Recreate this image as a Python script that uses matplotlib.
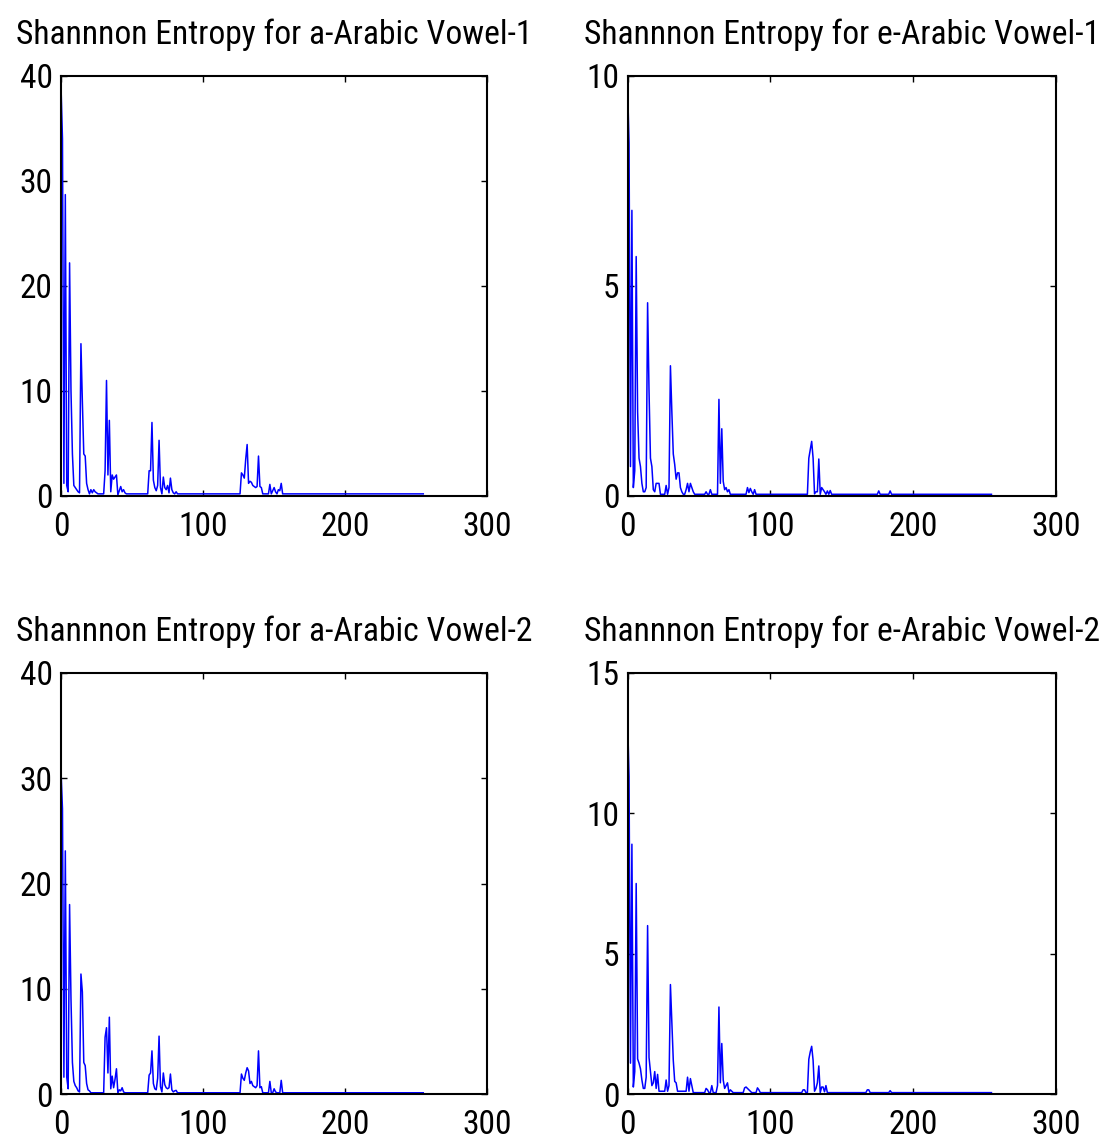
import numpy as np
import matplotlib
matplotlib.use("Agg")
import matplotlib.pyplot as plt
from matplotlib import font_manager

N_POINTS = 256

# a-Arabic Vowel-1 (top left): index -> entropy, rest sits on the baseline
a1_idx = [0, 1, 2, 3, 4, 5, 6, 7, 8, 9, 10, 11, 12, 13, 14, 15, 16, 17, 18, 19, 20, 21, 22, 23, 24, 25,
          31, 32, 33, 34, 35, 36, 37, 38, 39, 40, 41, 42, 43, 44, 45,
          62, 63, 64, 65, 66, 67, 68, 69, 70, 71, 72, 73, 74, 75, 76, 77, 78, 79, 81,
          127, 128, 129, 130, 131, 132, 133, 134, 135, 136, 137, 138, 139, 140, 141,
          147, 149, 150, 151, 153, 154, 155]
a1_val = [38.9, 34.0, 1.2, 28.7, 1.0, 0.4, 22.2, 10.0, 4.0, 1.0, 0.8, 0.6, 0.4, 0.3, 14.5, 9.0, 4.0, 3.8, 1.2, 0.6, 0.2, 0.6, 0.3, 0.6, 0.4, 0.3,
          2.4, 11.0, 2.0, 7.2, 0.4, 2.0, 1.6, 1.8, 2.0, 0.1, 0.5, 0.9, 0.4, 0.6, 0.3,
          2.4, 2.4, 7.0, 1.5, 0.8, 0.5, 1.0, 5.3, 0.8, 0.2, 1.8, 0.8, 0.6, 1.0, 0.3, 1.7, 0.6, 0.3, 0.4,
          2.2, 2.0, 1.7, 3.5, 4.9, 1.2, 1.4, 1.3, 1.0, 0.9, 0.8, 0.9, 3.8, 0.9, 0.8,
          1.1, 0.5, 0.8, 0.4, 0.6, 0.5, 1.2]
a1_base = 0.2

# e-Arabic Vowel-1 (top right)
e1_idx = [0, 1, 2, 3, 4, 5, 6, 7, 8, 9, 10, 11, 12, 13, 14, 15, 16, 17, 18, 19, 20, 21, 22,
          27, 29, 30, 31, 32, 33, 34, 35, 36, 37, 38, 41, 42, 43, 44, 45, 46,
          55, 58, 64, 65, 66, 67, 68, 69, 70, 71,
          84, 85, 86, 87, 89,
          127, 128, 129, 130, 131, 132, 133, 134, 136, 137, 138, 140, 142,
          176, 184]
e1_val = [9.7, 8.4, 0.7, 6.8, 0.2, 0.6, 5.7, 2.0, 0.9, 0.7, 0.3, 0.1, 0.1, 0.2, 4.6, 2.5, 0.9, 0.7, 0.15, 0.1, 0.3, 0.3, 0.3,
          0.25, 0.2, 3.1, 2.0, 1.0, 0.75, 0.4, 0.55, 0.55, 0.2, 0.1, 0.15, 0.3, 0.1, 0.3, 0.2, 0.1,
          0.1, 0.15, 2.3, 0.3, 1.6, 0.35, 0.15, 0.2, 0.1, 0.15,
          0.2, 0.08, 0.18, 0.1, 0.15,
          0.9, 1.1, 1.3, 0.9, 0.05, 0.1, 0.1, 0.88, 0.2, 0.15, 0.1, 0.12, 0.13,
          0.12, 0.12]
e1_base = 0.04

# a-Arabic Vowel-2 (bottom left)
a2_idx = [0, 1, 2, 3, 4, 5, 6, 7, 8, 9, 10, 11, 12, 13, 14, 15, 16, 17, 18, 19, 20,
          31, 32, 33, 34, 35, 36, 37, 38, 39, 40, 41, 42, 43, 44,
          62, 63, 64, 65, 66, 67, 68, 69, 70, 71, 72, 73, 74, 75, 76, 77, 78, 79, 80, 81,
          127, 128, 129, 130, 131, 132, 133, 134, 135, 136, 137, 138, 139, 140, 141,
          147, 150, 151, 155]
a2_val = [30.6, 27.1, 1.6, 23.1, 1.6, 0.5, 18.0, 9.0, 3.0, 1.2, 0.8, 0.6, 0.3, 0.2, 11.4, 9.7, 3.0, 2.7, 1.0, 0.4, 0.3,
          5.4, 6.3, 2.0, 7.3, 0.5, 1.7, 0.6, 1.4, 2.4, 0.1, 0.4, 0.3, 0.6, 0.2,
          1.8, 2.0, 4.1, 1.0, 0.5, 0.4, 1.5, 5.5, 0.7, 0.2, 2.0, 0.9, 0.6, 0.5, 0.6, 1.9, 0.4, 0.2, 0.3, 0.35,
          1.9, 1.5, 1.3, 2.0, 2.5, 2.2, 1.0, 1.2, 0.8, 0.7, 0.6, 0.8, 4.1, 0.6, 0.7,
          1.2, 0.5, 0.2, 1.3]
a2_base = 0.12

# e-Arabic Vowel-2 (bottom right)
e2_idx = [0, 1, 2, 3, 4, 5, 6, 7, 8, 9, 10, 11, 12, 13, 14, 15, 16, 17, 18, 19, 20, 21, 22, 23, 24, 25, 26,
          27, 28, 29, 30, 31, 32, 33, 34, 35, 36, 37, 38, 39, 40, 41, 42, 43, 44, 45,
          55, 56, 59, 63, 64, 65, 66, 67, 68, 69, 70, 72, 73,
          82, 83, 84, 85, 86, 91, 92,
          123, 124, 127, 128, 129, 130, 131, 132, 133, 134, 136, 137, 138, 139,
          168, 169, 184]
e2_val = [13.3, 11.3, 1.1, 8.9, 0.25, 0.8, 7.5, 1.25, 1.1, 0.9, 0.5, 0.2, 0.2, 0.6, 6.0, 1.3, 0.8, 0.3, 0.4, 0.8, 0.2, 0.7, 0.1, 0.1, 0.1, 0.1, 0.1,
          0.5, 0.1, 0.3, 3.9, 2.5, 1.2, 0.45, 0.4, 0.1, 0.1, 0.1, 0.1, 0.1, 0.1, 0.1, 0.6, 0.1, 0.55, 0.3,
          0.2, 0.15, 0.3, 0.3, 3.1, 0.4, 1.8, 0.5, 0.2, 0.3, 0.4, 0.15, 0.1,
          0.22, 0.25, 0.2, 0.15, 0.1, 0.22, 0.15,
          0.15, 0.15, 1.24, 1.5, 1.7, 1.2, 0.1, 0.2, 0.4, 1.0, 0.25, 0.25, 0.08, 0.3,
          0.15, 0.15, 0.12]
e2_base = 0.05

titles = ["Shannnon Entropy for a-Arabic Vowel-1", "Shannnon Entropy for e-Arabic Vowel-1",
          "Shannnon Entropy for a-Arabic Vowel-2", "Shannnon Entropy for e-Arabic Vowel-2"]
yticks = [[0, 10, 20, 30, 40], [0, 5, 10], [0, 10, 20, 30, 40], [0, 5, 10, 15]]
xticks = [0, 100, 200, 300]

# the original uses an Arial Narrow look; take a narrow face if one is around
installed = {f.name for f in font_manager.fontManager.ttflist}
narrow = None
for cand in ["Liberation Sans Narrow", "Arial Narrow", "Roboto Condensed",
             "Noto Sans Condensed", "Open Sans Condensed"]:
    if cand in installed:
        narrow = cand
        break
if narrow:
    plt.rcParams['font.family'] = [narrow, 'DejaVu Sans']
    title_size, tick_size = 24.2, 24
else:
    plt.rcParams['font.family'] = ['Liberation Sans', 'DejaVu Sans']
    title_size, tick_size = 21, 22


def build(idx, val, base):
    y = np.full(N_POINTS, base)
    y[idx] = val
    return y


series = [build(a1_idx, a1_val, a1_base), build(e1_idx, e1_val, e1_base),
          build(a2_idx, a2_val, a2_base), build(e2_idx, e2_val, e2_base)]

fig = plt.figure(figsize=(11.04, 11.42), dpi=100)
positions = [[0.0553, 0.5657, 0.386, 0.3678], [0.5685, 0.5657, 0.3877, 0.3678],
             [0.0553, 0.042, 0.386, 0.3687], [0.5685, 0.042, 0.3877, 0.3687]]

for k in range(4):
    ax = fig.add_axes(positions[k])
    ax.plot(np.arange(N_POINTS), series[k], color='#0000ff', linewidth=1.1)
    ax.set_xlim(0, 300)
    ax.set_ylim(yticks[k][0], yticks[k][-1])
    ax.set_xticks(xticks)
    ax.set_yticks(yticks[k])
    ax.tick_params(direction='in', top=True, right=True, length=4, width=1,
                   labelsize=tick_size)
    ax.tick_params(axis='x', pad=11)
    ax.tick_params(axis='y', pad=6)
    for s in ax.spines.values():
        s.set_linewidth(1.5)
    ax.set_title(titles[k], fontsize=title_size, pad=23)

fig.savefig("out.png", dpi=100)
